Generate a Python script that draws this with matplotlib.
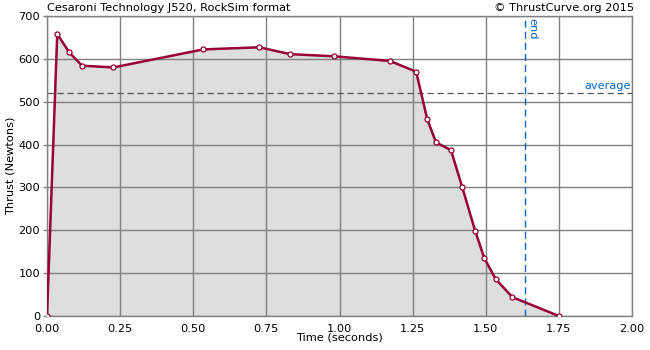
import matplotlib
matplotlib.use("Agg")
import matplotlib.pyplot as plt

time_s = [0.0, 0.035, 0.076, 0.12, 0.227, 0.534, 0.726, 0.831, 0.981, 1.173,
          1.262, 1.300, 1.330, 1.381, 1.419, 1.464, 1.495, 1.534, 1.591, 1.75]
thrust_n = [0, 658, 615, 584, 580, 622, 627, 611, 606, 595,
            570, 459, 405, 387, 302, 198, 135, 86, 44, 0]
average_thrust = 520
burn_end = 1.635
x_ticks = [0.0, 0.25, 0.5, 0.75, 1.0, 1.25, 1.5, 1.75, 2.0]
x_labels = ["0.00", "0.25", "0.50", "0.75", "1.00", "1.25", "1.50", "1.75", "2.00"]
y_ticks = [0, 100, 200, 300, 400, 500, 600, 700]

plt.rcParams['font.family'] = ['DejaVu Sans']
fs = 8.2
fig = plt.figure(figsize=(6.5, 3.5), dpi=100)
ax = fig.add_axes([47/650, 34/350, 585/650, 300/350])

line_color = "#990033"
blue = "#0066cc"
grid_color = "#808080"

ax.fill_between(time_s, thrust_n, 0, color="#dedede", zorder=1)
ax.set_xlim(0, 2.0)
ax.set_ylim(0, 700)
ax.set_xticks(x_ticks)
ax.set_xticklabels(x_labels)
ax.set_yticks(y_ticks)
ax.grid(True, color=grid_color, linewidth=1.0, zorder=2)
ax.set_axisbelow(False)

ax.axhline(average_thrust, color="#555555", linestyle=(0, (5, 3)), linewidth=0.9, zorder=3)
ax.axvline(burn_end, color=blue, linestyle=(0, (5, 3)), linewidth=1.0, zorder=3)
ax.text(1.995, average_thrust + 4, "average", color=blue, fontsize=fs, ha="right", va="bottom", zorder=5)
ax.text(burn_end + 0.008, 695, "end", color=blue, fontsize=fs, rotation=-90, ha="left", va="top", zorder=5)

ax.plot(time_s, thrust_n, color=line_color, linewidth=1.8, zorder=4,
        marker="o", markersize=3.6, markerfacecolor="white",
        markeredgecolor=line_color, markeredgewidth=0.9)

for s in ax.spines.values():
    s.set_color(grid_color)
    s.set_linewidth(1.0)
ax.tick_params(axis="both", labelsize=fs, color=grid_color, length=3, width=1, pad=2)
ax.tick_params(axis="x", length=0, pad=6)
for lbl in ax.get_yticklabels():
    lbl.set_verticalalignment("center_baseline")

ax.set_xlabel("Time (seconds)", fontsize=fs, labelpad=-1)
ax.set_ylabel("Thrust (Newtons)", fontsize=fs, labelpad=2)

fig.text(47/650, 1 - 8/350, "Cesaroni Technology J520, RockSim format", fontsize=fs, ha="left", va="center")
fig.text(634/650, 1 - 8/350, "\u00a9 ThrustCurve.org 2015", fontsize=fs, ha="right", va="center")

fig.savefig("out.png", dpi=100)
